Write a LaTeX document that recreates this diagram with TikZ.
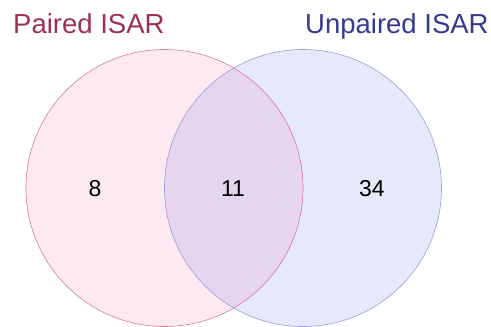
\documentclass[tikz,border=0pt]{standalone}
\usepackage{fontspec}
\setmainfont{Liberation Sans}
\definecolor{lfill}{HTML}{FDE9F1}
\definecolor{rfill}{HTML}{E6E9FC}
\definecolor{ofill}{HTML}{E6D5EE}
\definecolor{lline}{HTML}{D87A9C}
\definecolor{rline}{HTML}{9A9ED6}
\definecolor{ltitle}{HTML}{9E2F58}
\definecolor{rtitle}{HTML}{353A8F}
\begin{document}
\begin{tikzpicture}[x=1pt,y=-1pt,
  title/.style={font=\fontsize{27.5}{30}\selectfont, inner sep=0pt, anchor=base west},
  num/.style={font=\fontsize{23}{26}\selectfont, inner sep=0pt}]
\useasboundingbox (0,0) rectangle (491,327);
\coordinate (lc) at (164.5,188);
\coordinate (rc) at (303,188);
\fill[lfill] (lc) circle[radius=138.5];
\fill[rfill] (rc) circle[radius=138.5];
\begin{scope}
  \clip (lc) circle[radius=138.5];
  \fill[ofill] (rc) circle[radius=138.5];
\end{scope}
\draw[lline, line width=0.6pt] (lc) circle[radius=138.5];
\draw[rline, line width=0.6pt] (rc) circle[radius=138.5];
\node[title, text=ltitle] (tl) at (13,33) {Paired ISAR};
\node[title, text=rtitle] (tr) at (305,33) {Unpaired ISAR};
\node[num] (n8) at (95,189) {8};
\node[num] (n11) at (233,189) {11};
\node[num] (n34) at (372,189) {34};
\end{tikzpicture}
\end{document}
